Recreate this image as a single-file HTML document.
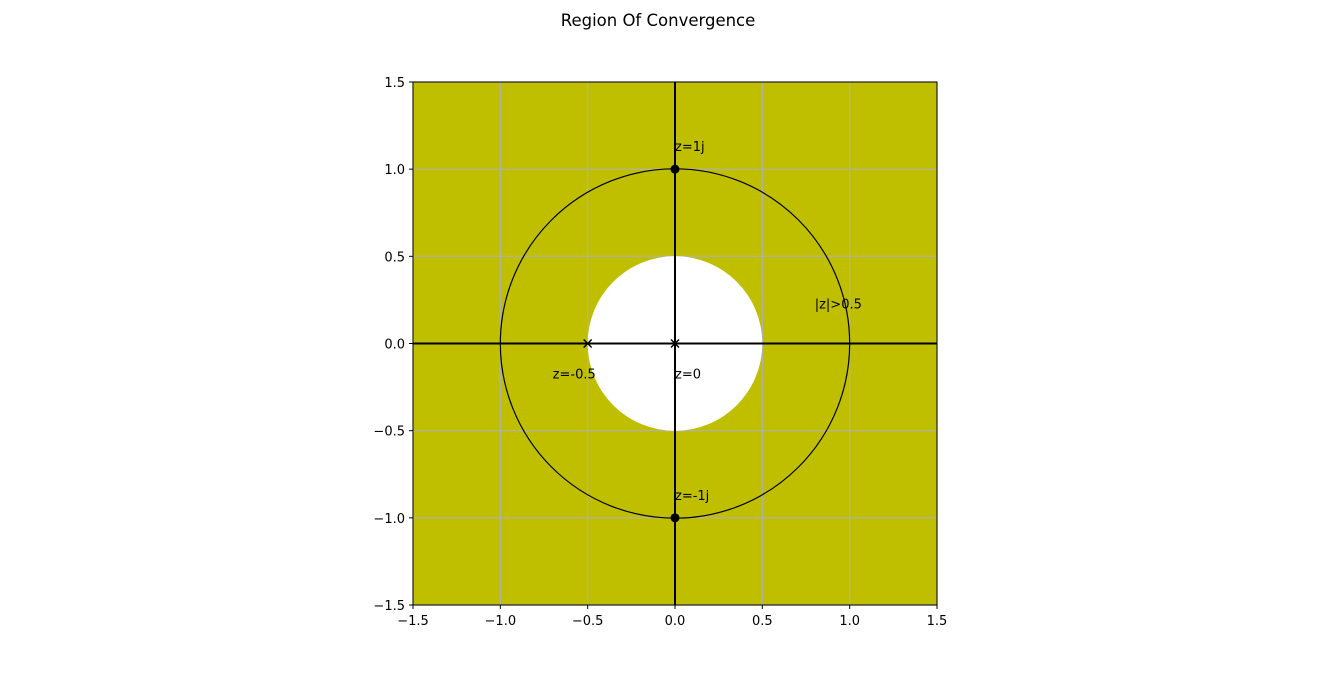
<!DOCTYPE html>
<html><head><meta charset="utf-8"><style>
body{margin:0;background:#fff;font-family:"Liberation Sans",sans-serif;}
svg text{font-family:"DejaVu Sans","Liberation Sans",sans-serif;font-size:13px;}
svg text.title{font-size:16.5px;}
</style></head><body>
<svg width="1317" height="680">
<text class="title" x="658" y="26" text-anchor="middle">Region Of Convergence</text>
<g id="plot"></g>
</svg>
<script>
const ticks=[-1.5,-1.0,-0.5,0.0,0.5,1.0,1.5];
const tickLabels=["−1.5","−1.0","−0.5","0.0","0.5","1.0","1.5"];
const rocRadius=[0.5];
const unitRadius=[1.0];
const poles=[[-0.5,0],[0,0]];
const poleLabels=["z=-0.5","z=0"];
const zeros=[[0,1],[0,-1]];
const zeroLabels=["z=1j","z=-1j"];
const regionLabel=["|z|>0.5",0.8,0.2];
const X0=413,X1=937,Y0=605,Y1=82;
const sx=v=>X0+(v+1.5)/3*(X1-X0);
const sy=v=>Y0-(v+1.5)/3*(Y0-Y1);
const ns="http://www.w3.org/2000/svg";
const g=document.getElementById('plot');
function el(t,a,txt){const e=document.createElementNS(ns,t);for(const k in a)e.setAttribute(k,a[k]);if(txt!==undefined)e.textContent=txt;g.appendChild(e);return e;}
let e=el('rect',{x:X0,y:Y1,width:X1-X0,height:Y0-Y1,fill:'#bfbf00'});


ticks.forEach(t=>{
 e=el('line',{x1:sx(t),x2:sx(t),y1:Y1,y2:Y0,stroke:'#b0b0b0','stroke-width':1.2});
 
 
 e=el('line',{x1:X0,x2:X1,y1:sy(t),y2:sy(t),stroke:'#b0b0b0','stroke-width':1.2});
 
 
});
const pxu=(X1-X0)/3;
e=el('circle',{cx:sx(0),cy:sy(0),r:rocRadius[0]*pxu,fill:'#fff'});


e=el('circle',{cx:sx(0),cy:sy(0),r:unitRadius[0]*pxu,fill:'none',stroke:'#000','stroke-width':1.2});


e=el('line',{x1:X0,x2:X1,y1:sy(0),y2:sy(0),stroke:'#000','stroke-width':2});


e=el('line',{x1:sx(0),x2:sx(0),y1:Y1,y2:Y0,stroke:'#000','stroke-width':2});


poles.forEach((p,i)=>{
 const x=sx(p[0]),y=sy(p[1]);
 e=el('path',{d:`M${x-4},${y-4}L${x+4},${y+4}M${x-4},${y+4}L${x+4},${y-4}`,stroke:'#000','stroke-width':1.5});
 
 
 e=el('text',{x:p[0]<0?x-35:x,y:y+35},poleLabels[i]);
 
 
});
zeros.forEach((p,i)=>{
 const x=sx(p[0]),y=sy(p[1]);
 e=el('circle',{cx:x,cy:y,r:4.5,fill:'#000'});
 
 
 e=el('text',{x:x,y:y-18},zeroLabels[i]);
 
 
});
e=el('text',{x:sx(regionLabel[1]),y:sy(regionLabel[2])},regionLabel[0]);


e=el('rect',{x:X0,y:Y1,width:X1-X0,height:Y0-Y1,fill:'none',stroke:'#000','stroke-width':1});


ticks.forEach((t,i)=>{
 e=el('line',{x1:sx(t),x2:sx(t),y1:Y0,y2:Y0+4,stroke:'#000'});
 
 
 e=el('text',{x:sx(t),y:Y0+20,'text-anchor':'middle'},tickLabels[i]);
 
 
 e=el('line',{x1:X0-4,x2:X0,y1:sy(t),y2:sy(t),stroke:'#000'});
 
 
 e=el('text',{x:X0-8,y:sy(t)+5,'text-anchor':'end'},tickLabels[i]);
 
 
});
</script>
</body></html>
